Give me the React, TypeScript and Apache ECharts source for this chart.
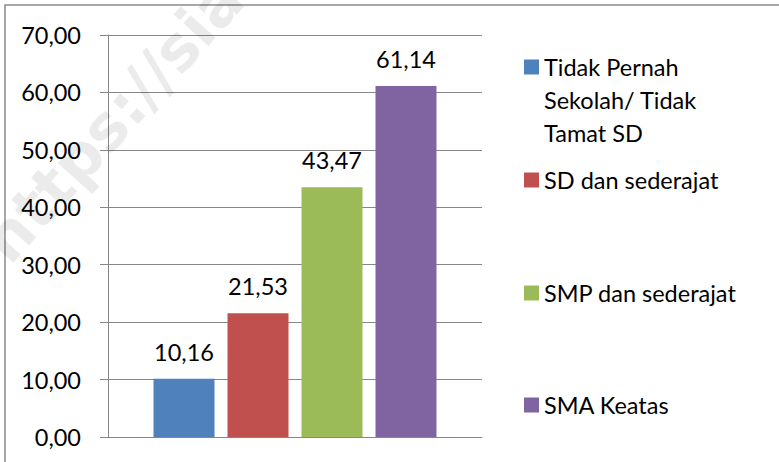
import React, { useEffect, useRef } from "react";
import * as echarts from "echarts";

const categories = [""];
const seriesNames = [
  "Tidak Pernah Sekolah/ Tidak Tamat SD",
  "SD dan sederajat",
  "SMP dan sederajat",
  "SMA Keatas",
];
const legendLabels = [
  "Tidak Pernah\nSekolah/ Tidak\nTamat SD",
  "SD dan sederajat",
  "SMP dan sederajat",
  "SMA Keatas",
];
const seriesValues = [10.16, 21.53, 43.47, 61.14];
const seriesColors = ["#4F81BD", "#C0504D", "#9BBB59", "#8064A2"];
const yTicks = { min: 0, max: 70, interval: 10 };

const FONT = "Lato";
const FS = 23.5;
const fmt = (v: number) => v.toFixed(2).replace(".", ",");

export default function App() {
  const ref = useRef<HTMLDivElement>(null);
  useEffect(() => {
    document.body.style.margin = "0";
    const chart = echarts.init(ref.current!, null, { renderer: "svg" });
    const legendTops = [50.5, 163.5, 276.5, 388.5];
    chart.setOption({
      animation: false,
      backgroundColor: "#fff",
      textStyle: { fontFamily: FONT },
      grid: { left: 108, right: 297, top: 35, bottom: 25 },
      xAxis: {
        type: "category",
        data: categories,
        axisLine: { show: true, lineStyle: { color: "#868686", width: 1 } },
        axisTick: { show: false },
        axisLabel: { show: false },
      },
      yAxis: {
        type: "value",
        min: yTicks.min,
        max: yTicks.max,
        interval: yTicks.interval,
        axisLine: { show: true, lineStyle: { color: "#868686", width: 1 } },
        axisTick: { show: true, length: 8, lineStyle: { color: "#868686" } },
        splitLine: { show: true, lineStyle: { color: "#868686", width: 1 } },
        axisLabel: {
          margin: 27,
          color: "#000",
          fontSize: FS,
          fontFamily: FONT,
          formatter: (v: number) => fmt(v),
        },
      },
      legend: seriesNames.map((name, i) => ({
        data: [name],
        orient: "vertical",
        left: 524,
        top: legendTops[i],
        padding: 0,
        itemWidth: 15,
        itemHeight: i === 0 ? 81 : 15,
        icon: i === 0 ? "path://M0,0L15,0L15,15L0,15ZM15,81" : "rect",
        itemGap: 6,
        selectedMode: false,
        formatter: () => legendLabels[i],
        textStyle: {
          color: "#000",
          fontSize: FS,
          fontFamily: FONT,
          lineHeight: 33,
        },
      })),
      series: seriesNames.map((name, i) => ({
        type: "bar",
        name,
        data: [seriesValues[i]],
        barWidth: 61,
        barGap: "21.3%",
        itemStyle: { color: seriesColors[i] },
        label: {
          show: true,
          position: "top",
          distance: 15,
          color: "#000",
          fontSize: FS,
          fontFamily: FONT,
          formatter: (p: any) => fmt(p.value),
        },
      })),
      graphic: [
        {
          type: "rect",
          shape: { x: 5, y: 5, width: 900, height: 600 },
          style: { fill: "none", stroke: "#8a8a8a", lineWidth: 1.5 },
          silent: true,
          z: 0,
        },
        {
          type: "text",
          x: -6,
          y: 252,
          rotation: (48 * Math.PI) / 180,
          style: {
            text: "https://sia",
            fill: "rgba(0,0,0,0.08)",
            font: "bold 62px 'DejaVu Sans'",
            verticalAlign: "middle",
            align: "left",
          },
          silent: true,
          z: 100,
        },
      ],
    });
    return () => chart.dispose();
  }, []);
  return <div ref={ref} style={{ width: 779, height: 462 }} />;
}
